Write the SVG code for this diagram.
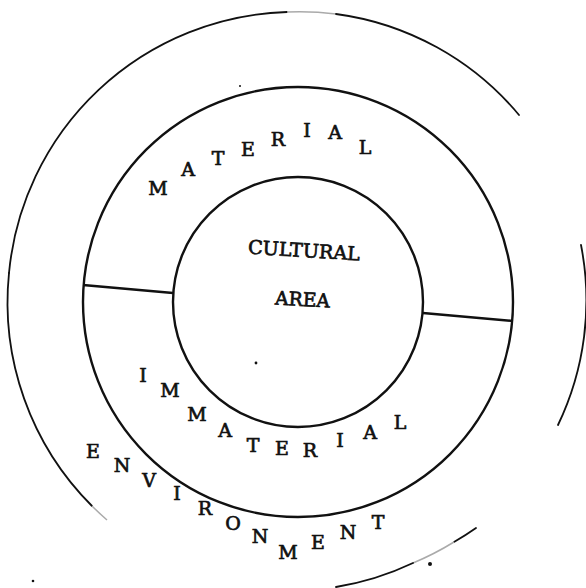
<svg xmlns="http://www.w3.org/2000/svg" width="586" height="588" viewBox="0 0 586 588">
<style>
.ring{fill:none;stroke:#111;stroke-width:2.4}
.outer{fill:none;stroke:#111;stroke-width:1.8;stroke-linecap:round}
.faint{fill:none;stroke:#aaa;stroke-width:1.5}
.div{stroke:#111;stroke-width:2.4}
.t{font-family:"DejaVu Serif","Liberation Serif",serif;font-size:19px;fill:#111;stroke:#111;stroke-width:0.7;text-anchor:middle}
.speck{fill:#111}
</style>
<rect width="586" height="588" fill="#fff"/>
<g id="environment">
<path class="outer" d="M 92 506 A 288 288 0 0 1 9 273"/>
<path class="faint" d="M 107 520 A 288 288 0 0 1 92 506"/>
<path class="outer" d="M 9 273 A 288 288 0 0 1 287 12"/>
<path class="faint" d="M 287 12 A 288 288 0 0 1 336 14"/>
<path class="outer" d="M 336 14 A 288 288 0 0 1 519 115"/>
<path class="outer" d="M 581 245 A 288 288 0 0 1 558 425"/>
<path class="outer" d="M 476 528 A 288 288 0 0 1 454 542"/>
<path class="faint" d="M 454 542 A 288 288 0 0 1 413 563"/>
<path class="outer" d="M 413 563 A 288 288 0 0 1 336 587"/>
<text class="t" x="93" y="458">E</text>
<text class="t" x="122" y="471.5">N</text>
<text class="t" x="149" y="486.5">V</text>
<text class="t" x="177" y="499.5">I</text>
<text class="t" x="205" y="514.5">R</text>
<text class="t" x="233" y="529.5">O</text>
<text class="t" x="260" y="542.5">N</text>
<text class="t" x="288" y="558.5">M</text>
<text class="t" x="318" y="548.5">E</text>
<text class="t" x="348" y="538.5">N</text>
<text class="t" x="378" y="528.5">T</text>
</g>
<g id="material">
<circle class="ring" cx="298" cy="302" r="215"/>
<text class="t" x="158" y="195">M</text>
<text class="t" x="188" y="175.5">A</text>
<text class="t" x="218" y="165">T</text>
<text class="t" x="248" y="155.5">E</text>
<text class="t" x="278" y="145.5">R</text>
<text class="t" x="307" y="137">I</text>
<text class="t" x="335" y="139">A</text>
<text class="t" x="365" y="154">L</text>
</g>
<g id="immaterial">
<text class="t" x="143" y="382">I</text>
<text class="t" x="170" y="397">M</text>
<text class="t" x="197" y="421">M</text>
<text class="t" x="225" y="437">A</text>
<text class="t" x="253" y="452">T</text>
<text class="t" x="282" y="454.5">E</text>
<text class="t" x="310" y="457">R</text>
<text class="t" x="340" y="447">I</text>
<text class="t" x="370" y="438.5">A</text>
<text class="t" x="400" y="428.5">L</text>
</g>
<g id="cultural-area">
<circle class="ring" cx="298" cy="302" r="125"/>
<text class="t" x="304" y="257" textLength="112" lengthAdjust="spacingAndGlyphs" transform="rotate(3.5 304 250)">CULTURAL</text>
<text class="t" x="302.5" y="306" textLength="55" lengthAdjust="spacingAndGlyphs" transform="rotate(3 302 300)">AREA</text>
</g>
<g id="connectors">
<line class="div" x1="83" y1="285" x2="173" y2="293"/>
<line class="div" x1="423" y1="313" x2="513" y2="321"/>
</g>
<g id="specks">
<circle class="speck" cx="240" cy="86" r="1"/>
<circle class="speck" cx="256" cy="363" r="1.4"/>
<circle class="speck" cx="430" cy="564" r="2"/>
<circle class="speck" cx="33" cy="581" r="1.3"/>
</g>
</svg>
